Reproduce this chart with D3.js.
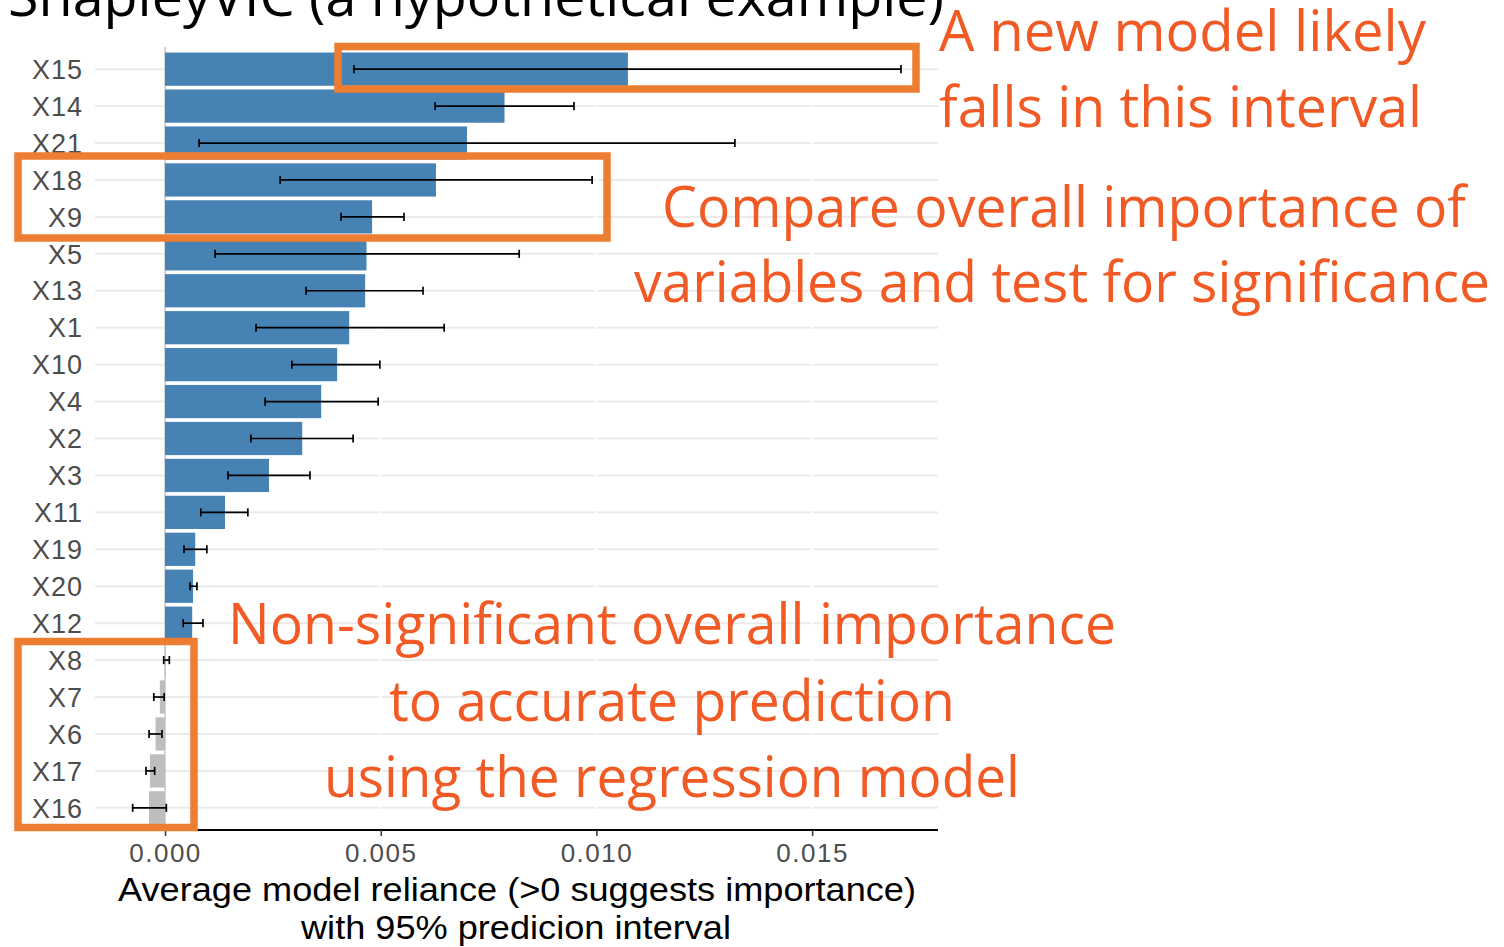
<!DOCTYPE html>
<html>
<head>
<meta charset="utf-8">
<script src="https://cdnjs.cloudflare.com/ajax/libs/d3/7.8.5/d3.min.js"></script>
<style>
  html, body { margin: 0; padding: 0; background: #fff; overflow: hidden; }
</style>
</head>
<body>
<div id="chart"></div>
<script>
'use strict';

// variables, top to bottom as drawn
var categories = ["X15", "X14", "X21", "X18", "X9", "X5", "X13", "X1", "X10", "X4", "X2",
                  "X3", "X11", "X19", "X20", "X12", "X8", "X7", "X6", "X17", "X16"];
// average model reliance
var means = [0.01073, 0.00787, 0.00700, 0.00628, 0.00480, 0.00467, 0.00464, 0.00427, 0.00399, 0.00362, 0.00318,
             0.00241, 0.00139, 0.00070, 0.00065, 0.00063, 0.00002, -0.00012, -0.00022, -0.00035, -0.00037];
// 95% prediction interval
var lower = [0.00438, 0.00626, 0.00079, 0.00267, 0.00408, 0.00116, 0.00327, 0.00211, 0.00294, 0.00232, 0.00199,
             0.00146, 0.00083, 0.00044, 0.00058, 0.00042, -0.00003, -0.00026, -0.00037, -0.00044, -0.00075];
var upper = [0.01706, 0.00948, 0.01321, 0.00990, 0.00554, 0.00821, 0.00598, 0.00647, 0.00498, 0.00494, 0.00436,
             0.00336, 0.00192, 0.00097, 0.00074, 0.00088, 0.00010, -0.00002, -0.00007, -0.00024, 0.00003];
var xTicks = [0, 0.005, 0.010, 0.015];
var xDomain = [-0.001623, 0.017918];

var titleText = "ShapleyVIC (a hypothetical example)";
var axisTitle = ["Average model reliance (>0 suggests importance)", "with 95% predicion interval"];

var notes = [
  {text: "A new model likely", x0: 939, x1: 1426, y: 51},
  {text: "falls in this interval", x0: 939, x1: 1422, y: 127},
  {text: "Compare overall importance of", x0: 662, x1: 1466, y: 227},
  {text: "variables and test for significance", x0: 634, x1: 1490, y: 302},
  {text: "Non-significant overall importance", x0: 228, x1: 1116, y: 644},
  {text: "to accurate prediction", x0: 389, x1: 955, y: 721},
  {text: "using the regression model", x0: 324, x1: 1020, y: 797}
];
var boxes = [
  {x0: 338, y0: 46.5, x1: 916, y1: 89},
  {x0: 18, y0: 156, x1: 607, y1: 238},
  {x0: 18, y0: 641.5, x1: 194, y1: 827.5}
];

var W = 1504, H = 947;
var margin = {top: 47, right: 566, bottom: 117, left: 95};

var svg = d3.select("#chart").append("svg")
  .attr("width", W)
  .attr("height", H);

var data = categories.map(function(c, i) {
  return {name: c, mean: means[i], lo: lower[i], hi: upper[i]};
});

var x = d3.scaleLinear()
  .domain(xDomain)
  .range([margin.left, W - margin.right]);

var y = d3.scaleBand()
  .domain(categories)
  .range([margin.top, H - margin.bottom])
  .paddingInner(0.1)
  .paddingOuter(0.15);

var step = y.step();
function yc(name) { return y(name) + y.bandwidth() / 2; }

// horizontal grid
svg.append("g").selectAll("line")
  .data(categories)
  .enter().append("line")
  .attr("x1", x.range()[0])
  .attr("x2", x.range()[1])
  .attr("y1", function(d) { return yc(d); })
  .attr("y2", function(d) { return yc(d); })
  .attr("stroke", "#ebebeb")
  .attr("stroke-width", 2);

// vertical breaks in grid at ticks
svg.append("g").selectAll("line")
  .data(xTicks.filter(function(t) { return t !== 0; }))
  .enter().append("line")
  .attr("x1", function(d) { return x(d); })
  .attr("x2", function(d) { return x(d); })
  .attr("y1", margin.top)
  .attr("y2", H - margin.bottom)
  .attr("stroke", "#ffffff")
  .attr("stroke-width", 2);

// zero reference
svg.append("line")
  .attr("x1", x(0)).attr("x2", x(0))
  .attr("y1", margin.top).attr("y2", H - margin.bottom)
  .attr("stroke", "#c8c8c8")
  .attr("stroke-width", 1.5);

// bars
svg.append("g").selectAll("rect")
  .data(data)
  .enter().append("rect")
  .attr("x", function(d) { return x(Math.min(0, d.mean)); })
  .attr("y", function(d) { return y(d.name); })
  .attr("width", function(d) { return Math.abs(x(d.mean) - x(0)); })
  .attr("height", y.bandwidth())
  .attr("fill", function(d) { return d.lo > 0 ? "#4682b4" : "#bebebe"; });

// error bars
var eb = svg.append("g").selectAll("g")
  .data(data)
  .enter().append("g")
  .attr("stroke", "#000")
  .attr("stroke-width", 1.7);

var capH = step * 0.11;
eb.append("line")
  .attr("x1", function(d) { return x(d.lo); })
  .attr("x2", function(d) { return x(d.hi); })
  .attr("y1", function(d) { return yc(d.name); })
  .attr("y2", function(d) { return yc(d.name); });
eb.append("line")
  .attr("x1", function(d) { return x(d.lo); })
  .attr("x2", function(d) { return x(d.lo); })
  .attr("y1", function(d) { return yc(d.name) - capH; })
  .attr("y2", function(d) { return yc(d.name) + capH; });
eb.append("line")
  .attr("x1", function(d) { return x(d.hi); })
  .attr("x2", function(d) { return x(d.hi); })
  .attr("y1", function(d) { return yc(d.name) - capH; })
  .attr("y2", function(d) { return yc(d.name) + capH; });

// x axis
var xAxis = svg.append("g")
  .attr("transform", "translate(0," + (H - margin.bottom) + ")")
  .call(d3.axisBottom(x).tickValues(xTicks).tickFormat(d3.format(".3f")).tickSize(6).tickPadding(8));
xAxis.select(".domain").attr("stroke", "#000").attr("stroke-width", 2)
  .attr("d", "M" + x.range()[0] + ",0H" + x.range()[1]);
xAxis.selectAll(".tick line").attr("stroke", "#333").attr("stroke-width", 1.5);
xAxis.selectAll(".tick text")
  .attr("fill", "#4d4d4d")
  .style("font-family", "'Liberation Sans', Arial, sans-serif")
  .style("font-size", "26px")
  .style("letter-spacing", "1.5px");

// y labels
svg.append("g").selectAll("text")
  .data(categories)
  .enter().append("text")
  .attr("x", 83)
  .attr("y", function(d) { return yc(d); })
  .attr("dy", "0.36em")
  .attr("text-anchor", "end")
  .attr("fill", "#4d4d4d")
  .style("font-family", "'Liberation Sans', Arial, sans-serif")
  .style("font-size", "27px")
  .style("letter-spacing", "1px")
  .text(function(d) { return d; });

// axis title
svg.append("text")
  .attr("x", 118).attr("y", 901)
  .attr("textLength", 798).attr("lengthAdjust", "spacingAndGlyphs")
  .style("font-family", "'Liberation Sans', Arial, sans-serif")
  .style("font-size", "33px")
  .text(axisTitle[0]);
svg.append("text")
  .attr("x", 301).attr("y", 939)
  .attr("textLength", 430).attr("lengthAdjust", "spacingAndGlyphs")
  .style("font-family", "'Liberation Sans', Arial, sans-serif")
  .style("font-size", "33px")
  .text(axisTitle[1]);

// title, cut off at top of the slide
svg.append("text")
  .attr("x", 8).attr("y", 16)
  .attr("textLength", 936).attr("lengthAdjust", "spacingAndGlyphs")
  .attr("fill", "#000")
  .style("font-family", "'Open Sans', sans-serif")
  .style("font-size", "54px")
  .text(titleText);

// annotation boxes
svg.append("g").selectAll("rect")
  .data(boxes)
  .enter().append("rect")
  .attr("x", function(d) { return d.x0; })
  .attr("y", function(d) { return d.y0; })
  .attr("width", function(d) { return d.x1 - d.x0; })
  .attr("height", function(d) { return d.y1 - d.y0; })
  .attr("fill", "none")
  .attr("stroke", "#ed7d31")
  .attr("stroke-width", 7.5);

// annotation text
svg.append("g").selectAll("text")
  .data(notes)
  .enter().append("text")
  .attr("x", function(d) { return d.x0; })
  .attr("y", function(d) { return d.y; })
  .attr("textLength", function(d) { return d.x1 - d.x0; })
  .attr("lengthAdjust", "spacingAndGlyphs")
  .attr("fill", "#f15a24")
  .style("font-family", "'Open Sans', sans-serif")
  .style("font-size", "57px")
  .text(function(d) { return d.text; });
</script>
</body>
</html>
